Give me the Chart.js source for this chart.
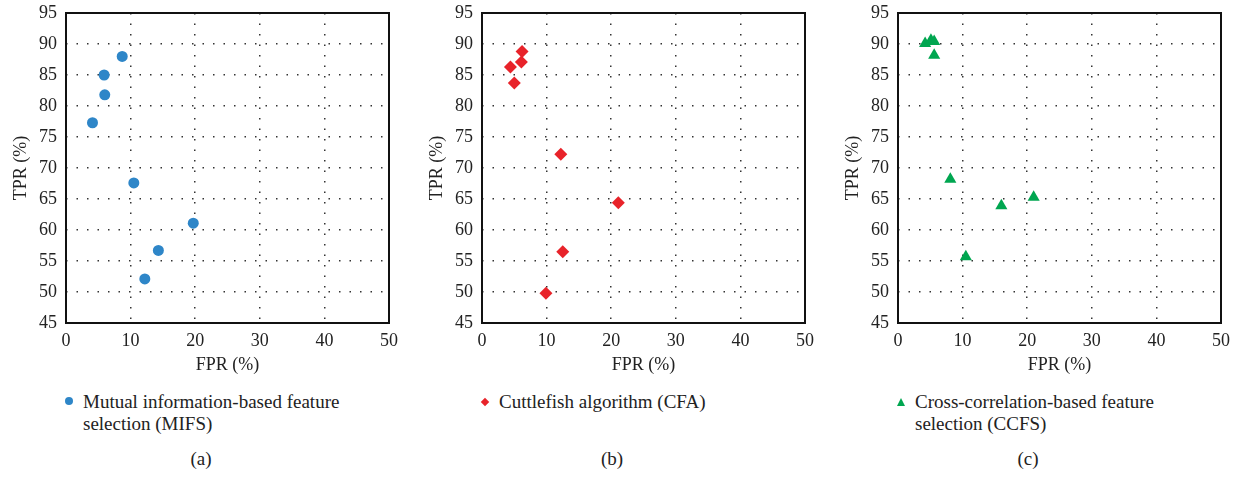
<!DOCTYPE html>
<html>
<head>
<meta charset="utf-8">
<script src="https://cdn.jsdelivr.net/npm/chart.js@4.4.1/dist/chart.umd.min.js"></script>
<style>
  body { margin: 0; background: #fff; width: 1242px; height: 477px; position: relative; overflow: hidden;
         font-family: "Liberation Serif", "Times New Roman", "DejaVu Serif", serif; color: #222; }
  .panel { position: absolute; top: 0; width: 400px; height: 380px; }
  .legend { position: absolute; top: 391px; font-size: 19px; line-height: 22px; }
  .legend .mk { position: absolute; left: 0; top: 6px; }
  .legend .txt { position: absolute; left: 18px; top: 0; white-space: nowrap; }
  .caption { position: absolute; top: 448px; font-size: 19px; line-height: 22px; width: 60px; text-align: center; }
  .dot { width: 8px; height: 8px; border-radius: 50%; background: #2e86c8; }
  .dia { width: 6px; height: 6px; background: #e8232a; transform: rotate(45deg); margin-left: 1px; margin-top: 2px; }
  .tri { width: 0; height: 0; border-left: 4px solid transparent; border-right: 4px solid transparent; border-bottom: 8px solid #00a650; margin-top: 1px; }
</style>
</head>
<body>
<div class="panel" style="left:0px"><canvas id="chartA" width="400" height="380"></canvas></div>
<div class="panel" style="left:416px"><canvas id="chartB" width="400" height="380"></canvas></div>
<div class="panel" style="left:832px"><canvas id="chartC" width="400" height="380"></canvas></div>

<div class="legend" style="left:65px"><div class="mk dot"></div><div class="txt">Mutual information-based feature<br>selection (MIFS)</div></div>
<div class="legend" style="left:481px"><div class="mk dia"></div><div class="txt">Cuttlefish algorithm (CFA)</div></div>
<div class="legend" style="left:897px"><div class="mk tri"></div><div class="txt">Cross-correlation-based feature<br>selection (CCFS)</div></div>

<div class="caption" style="left:171px">(a)</div>
<div class="caption" style="left:582px">(b)</div>
<div class="caption" style="left:998px">(c)</div>

<script>
// values (FPR %, TPR %)
const mifsFpr = [8.7, 5.9, 6.0, 4.1, 10.5, 19.7, 14.3, 12.2];
const mifsTpr = [88.0, 85.0, 81.8, 77.3, 67.6, 61.1, 56.7, 52.1];

const cfaFpr = [6.2, 6.1, 4.4, 5.0, 12.2, 21.1, 12.5, 9.9];
const cfaTpr = [88.8, 87.1, 86.3, 83.7, 72.2, 64.4, 56.5, 49.8];

const ccfsFpr = [4.2, 5.1, 5.6, 5.6, 8.1, 16.0, 21.0, 10.5];
const ccfsTpr = [90.1, 90.6, 90.4, 88.2, 68.2, 63.9, 65.3, 55.7];

const xTicks = [0, 10, 20, 30, 40, 50];
const yTicks = [45, 50, 55, 60, 65, 70, 75, 80, 85, 90, 95];

const serif = "'Liberation Serif', 'Times New Roman', 'DejaVu Serif', serif";

// box around the plot area
const frame = {
    id: 'frame',
    afterDraw(chart) {
        const a = chart.chartArea, c = chart.ctx;
        c.save();
        c.strokeStyle = '#111';
        c.lineWidth = 2;
        c.strokeRect(a.left, a.top, a.right - a.left, a.bottom - a.top);
        c.restore();
    }
};

function makeChart(id, label, xs, ys, color, style, radius) {
    const pts = xs.map((x, i) => ({ x: x, y: ys[i] }));
    return new Chart(document.getElementById(id), {
        type: 'scatter',
        data: {
            datasets: [{
                label: label,
                data: pts,
                pointStyle: style,
                pointRadius: radius,
                pointHoverRadius: radius,
                backgroundColor: color,
                borderColor: color,
                borderWidth: 0
            }]
        },
        options: {
            responsive: false,
            animation: false,
            layout: { padding: { top: 13, right: 11, left: 0, bottom: 0 } },
            plugins: { legend: { display: false }, tooltip: { enabled: false } },
            scales: {
                x: {
                    type: 'linear', min: 0, max: 50,
                    afterBuildTicks: s => { s.ticks = xTicks.map(v => ({ value: v })); },
                    afterFit: s => { s.height = 57; s.paddingLeft = 0; s.paddingRight = 0; },
                    grid: { color: '#333', lineWidth: 1.5, drawTicks: false },
                    border: { display: false, dash: [1.5, 9] },
                    ticks: { padding: 7, color: '#222', font: { family: serif, size: 18 } },
                    title: { display: true, text: 'FPR (%)', color: '#222', padding: { top: 0, bottom: 4 },
                             font: { family: serif, size: 18 } }
                },
                y: {
                    type: 'linear', min: 45, max: 95,
                    afterBuildTicks: s => { s.ticks = yTicks.map(v => ({ value: v })); },
                    afterFit: s => { s.width = 66; s.paddingTop = 0; s.paddingBottom = 0; },
                    grid: { color: '#333', lineWidth: 1.5, drawTicks: false },
                    border: { display: false, dash: [1.5, 9] },
                    ticks: { padding: 9, color: '#222', font: { family: serif, size: 18 } },
                    title: { display: true, text: 'TPR (%)', color: '#222', padding: { top: 10, bottom: 0 },
                             font: { family: serif, size: 18 } }
                }
            }
        },
        plugins: [frame]
    });
}

makeChart('chartA', 'Mutual information-based feature selection (MIFS)', mifsFpr, mifsTpr, '#2e86c8', 'circle', 5.5);
makeChart('chartB', 'Cuttlefish algorithm (CFA)', cfaFpr, cfaTpr, '#e8232a', 'rectRot', 6.5);
makeChart('chartC', 'Cross-correlation-based feature selection (CCFS)', ccfsFpr, ccfsTpr, '#00a650', 'triangle', 7);
</script>
</body>
</html>
